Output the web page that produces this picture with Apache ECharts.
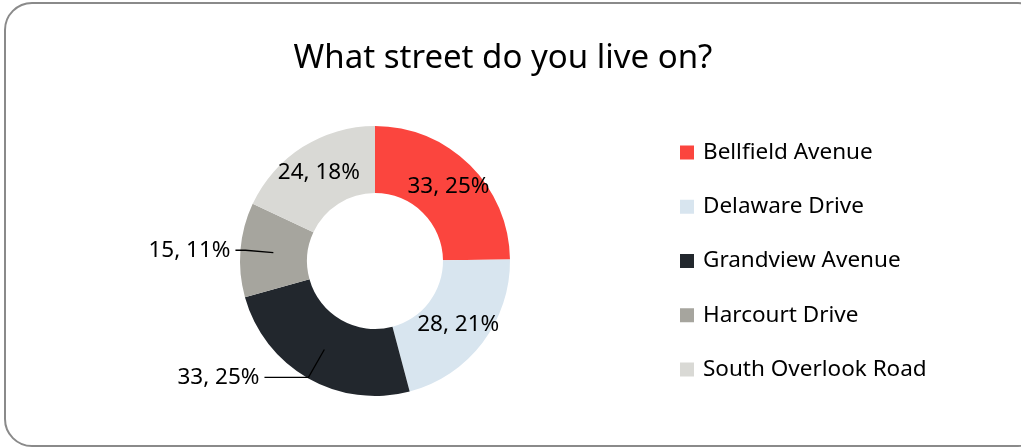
<!DOCTYPE html>
<html><head><meta charset="utf-8">
<script src="https://cdn.jsdelivr.net/npm/echarts@6/dist/echarts.min.js"></script>
<style>html,body{margin:0;padding:0;background:#fff;overflow:hidden}#c{width:1021px;height:448px}</style>
</head><body><div id="c"></div>
<script>
const titleText = 'What street do you live on?';
const categories = ['Bellfield Avenue','Delaware Drive','Grandview Avenue','Harcourt Drive','South Overlook Road'];
const values = [33, 28, 33, 15, 24];
const colors = ['#fb453e','#d8e5ef','#22272d','#a6a59e','#d9d9d5'];
const outsideLabels = {'Grandview Avenue':{length:32,length2:44}, 'Harcourt Drive':{length:28,length2:10}};

const chart = echarts.init(document.getElementById('c'));
const FONT = '"Noto Sans", sans-serif';
const CX = 375, CY = 261;
const fmt = p => p.value + ', ' + Math.round(p.percent) + '%';
const labelStyle = {fontFamily:FONT, fontSize:22.5, color:'#000'};

const ringData = categories.map((n,i)=>({
  name:n, value:values[i], itemStyle:{color:colors[i]},
  label:{show:!outsideLabels[n]}
}));
const overlayData = categories.map((n,i)=>{
  const o = {name:n, value:values[i], itemStyle:{color:'rgba(0,0,0,0)'}, label:{show:false}, labelLine:{show:false}};
  if (outsideLabels[n]) {
    o.label = {show:true};
    o.labelLine = Object.assign({show:true}, outsideLabels[n]);
  }
  return o;
});

chart.setOption({
  animation:false,
  graphic:[{type:'rect', shape:{x:5,y:3,width:1040,height:443,r:27}, style:{fill:'none',stroke:'#8a8a8a',lineWidth:2}, silent:true}],
  title:{text:titleText, left:498, top:37, textAlign:'center', textStyle:{fontFamily:FONT,fontSize:33,fontWeight:'normal',color:'#000'}},
  legend:{orient:'vertical', left:675, top:136, itemWidth:14, itemHeight:14, itemGap:31.25, icon:'rect',
    textStyle:{fontFamily:FONT,fontSize:22.5,color:'#000',padding:[0,0,0,4]},
    data:categories.map((n,i)=>({name:n, itemStyle:{color:colors[i]}}))},
  series:[
    {type:'pie', name:'ring', center:[CX,CY], radius:[68,135], startAngle:90, clockwise:true, avoidLabelOverlap:false,
     label:Object.assign({position:'inside', formatter:fmt}, labelStyle),
     labelLine:{show:false}, emphasis:{disabled:true}, data:ringData},
    {type:'pie', name:'labels', center:[CX,CY], radius:[0,102], startAngle:90, clockwise:true, avoidLabelOverlap:false,
     silent:true, z:3,
     label:Object.assign({position:'outside', formatter:fmt, distanceToLabelLine:5}, labelStyle),
     labelLine:{lineStyle:{color:'#000',width:1.3}}, emphasis:{disabled:true}, data:overlayData}
  ]
});
</script></body></html>
